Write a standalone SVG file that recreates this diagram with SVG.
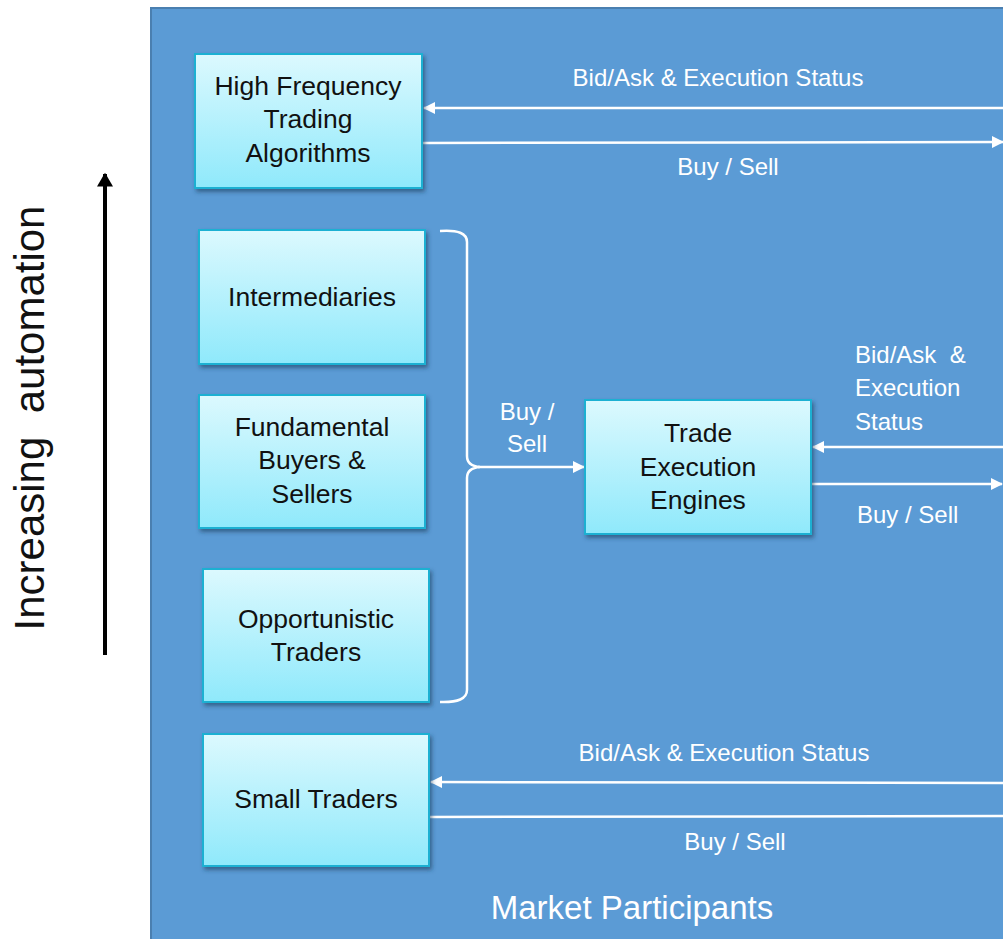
<svg xmlns="http://www.w3.org/2000/svg" width="1003" height="939" viewBox="0 0 1003 939">
<style>
.box{fill:url(#boxg);stroke:#1fb0d2;stroke-width:2;filter:url(#sh)}
.bt{font-family:"Liberation Sans",Arial,sans-serif;font-size:26.5px;fill:#111;text-anchor:middle}
.wl{font-family:"Liberation Sans",Arial,sans-serif;font-size:24px;fill:#ffffff}
.c{text-anchor:middle}
.ln{stroke:#ffffff;stroke-width:2.5;fill:none}
</style>
<defs>
<linearGradient id="boxg" x1="0" y1="0" x2="0" y2="1">
<stop offset="0" stop-color="#dcf9fe"/>
<stop offset="1" stop-color="#8fe9fb"/>
</linearGradient>
<filter id="sh" x="-10%" y="-10%" width="125%" height="125%">
<feDropShadow dx="2" dy="3" stdDeviation="2" flood-color="#1d3c5c" flood-opacity="0.6"/>
</filter>
<marker id="wa" viewBox="0 0 12 12" refX="11" refY="6" markerWidth="12" markerHeight="12" markerUnits="userSpaceOnUse" orient="auto">
<path d="M0,0 L12,6 L0,12 Z" fill="#ffffff"/>
</marker>
<marker id="ba" viewBox="0 0 12 14" refX="11" refY="7" markerWidth="16" markerHeight="16" markerUnits="userSpaceOnUse" orient="auto">
<path d="M0,0 L12,7 L0,14 Z" fill="#000000"/>
</marker>
</defs>
<rect x="0" y="0" width="1003" height="939" fill="#ffffff"/>
<g id="panel">
<rect x="151" y="8" width="870" height="950" fill="#5b9bd5" stroke="#4a7fb0" stroke-width="2"/>
</g>
<g id="automation-axis">
<line x1="105" y1="655" x2="105" y2="174" stroke="#000" stroke-width="4" marker-end="url(#ba)"/>
<text x="0" y="0" transform="translate(44,418) rotate(-90)" font-family="Liberation Sans,Arial,sans-serif" font-size="42" fill="#111" text-anchor="middle" xml:space="preserve">Increasing  automation</text>
</g>
<g id="connectors">
<line class="ln" x1="1003" y1="108" x2="424" y2="108" marker-end="url(#wa)"/>
<line class="ln" x1="423" y1="143" x2="1003" y2="142" marker-end="url(#wa)"/>
<path class="ln" d="M440,231 Q467,229 467,242 L467,456 Q467,466 480,467 Q467,468 467,478 L467,690 Q467,703 440,702"/>
<line class="ln" x1="478" y1="467" x2="584" y2="467" marker-end="url(#wa)"/>
<line class="ln" x1="1003" y1="447" x2="813" y2="447" marker-end="url(#wa)"/>
<line class="ln" x1="812" y1="484" x2="1002" y2="484" marker-end="url(#wa)"/>
<line class="ln" x1="1003" y1="783" x2="431" y2="782" marker-end="url(#wa)"/>
<line class="ln" x1="430" y1="817" x2="1003" y2="816"/>
</g>
<g id="labels">
<text class="wl c" x="718" y="86">Bid/Ask &amp; Execution Status</text>
<text class="wl c" x="728" y="175">Buy / Sell</text>
<text class="wl c" x="527" y="420">Buy /</text>
<text class="wl c" x="527" y="452">Sell</text>
<text class="wl" x="855" y="363" xml:space="preserve">Bid/Ask  &amp;</text>
<text class="wl" x="855" y="396">Execution</text>
<text class="wl" x="855" y="430">Status</text>
<text class="wl" x="857" y="523">Buy / Sell</text>
<text class="wl c" x="724" y="761">Bid/Ask &amp; Execution Status</text>
<text class="wl c" x="735" y="850">Buy / Sell</text>
<text class="wl c" x="632" y="919" style="font-size:33px">Market Participants</text>
</g>
<g id="hft">
<rect class="box" x="195" y="54" width="227" height="134"/>
<text class="bt" x="308" y="95">High Frequency</text>
<text class="bt" x="308" y="128">Trading</text>
<text class="bt" x="308" y="162">Algorithms</text>
</g>
<g id="intermediaries">
<rect class="box" x="199" y="230" width="226" height="134"/>
<text class="bt" x="312" y="306">Intermediaries</text>
</g>
<g id="fundamental">
<rect class="box" x="199" y="395" width="226" height="133"/>
<text class="bt" x="312" y="436">Fundamental</text>
<text class="bt" x="312" y="469">Buyers &amp;</text>
<text class="bt" x="312" y="503">Sellers</text>
</g>
<g id="opportunistic">
<rect class="box" x="203" y="569" width="226" height="133"/>
<text class="bt" x="316" y="628">Opportunistic</text>
<text class="bt" x="316" y="661">Traders</text>
</g>
<g id="small-traders">
<rect class="box" x="203" y="734" width="226" height="132"/>
<text class="bt" x="316" y="808">Small Traders</text>
</g>
<g id="tee">
<rect class="box" x="585" y="400" width="226" height="134"/>
<text class="bt" x="698" y="442">Trade</text>
<text class="bt" x="698" y="476">Execution</text>
<text class="bt" x="698" y="509">Engines</text>
</g>
</svg>
